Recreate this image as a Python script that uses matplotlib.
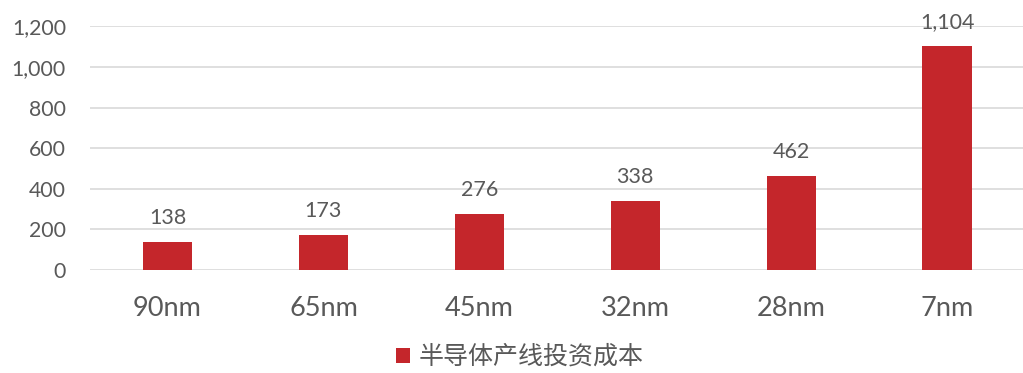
import matplotlib
matplotlib.use("Agg")
import matplotlib.pyplot as plt

categories = ["90nm", "65nm", "45nm", "32nm", "28nm", "7nm"]
values = [138, 173, 276, 338, 462, 1104]
series_name = "半导体产线投资成本"
yticks = [0, 200, 400, 600, 800, 1000, 1200]

plt.rcParams['font.family'] = ['Lato', 'DejaVu Sans']
text_color = "#595959"
bar_color = "#C4262B"

fig = plt.figure(figsize=(10.23, 3.73), dpi=100)
ax = fig.add_axes([89.6/1023, (373-270)/373, (1025-89.6)/1023, (270-26.4)/373])

x = list(range(len(categories)))
bars = ax.bar(x, values, width=0.315, color=bar_color, zorder=3, label=series_name)
ax.set_xlim(-0.5, len(categories) - 0.5)
ax.set_ylim(0, 1200)
ax.set_yticks(yticks)
ax.set_yticklabels([f"{v:,}" for v in yticks], fontsize=15.3, color=text_color)
ax.set_xticks(x)
ax.set_xticklabels(categories, fontsize=19.5, color=text_color)
ax.tick_params(axis='both', length=0)
ax.tick_params(axis='x', pad=19)
ax.tick_params(axis='y', pad=17)
ax.grid(axis='y', color="#D9D9D9", linewidth=1.2, zorder=0)
for s in ax.spines.values():
    s.set_visible(False)

for xi, v in zip(x, values):
    ax.annotate(f"{v:,}", (xi, v), xytext=(0, 10), textcoords="offset points",
                ha="center", va="bottom", fontsize=15.5, color=text_color)

leg = fig.legend(handles=[bars], labels=[series_name], loc="center",
                 bbox_to_anchor=(520/1023, 1 - 357/373), frameon=False,
                 prop={'family': ['Noto Sans CJK SC', 'DejaVu Sans'], 'size': 18},
                 handlelength=0.55, handleheight=0.55, handletextpad=0.35)
for t in leg.get_texts():
    t.set_color(text_color)

fig.savefig("out.png", dpi=100)
